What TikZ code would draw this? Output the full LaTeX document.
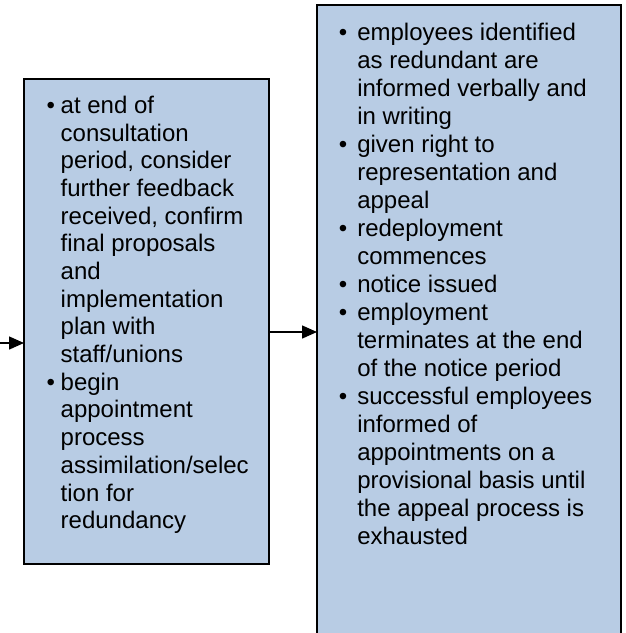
\documentclass[tikz,border=0pt]{standalone}
\usepackage{fontspec}
\setmainfont{Liberation Sans}
\usetikzlibrary{arrows.meta}
\definecolor{boxfill}{HTML}{B8CCE4}
\begin{document}
\begin{tikzpicture}[x=1pt,y=-1pt,
  box/.style={draw=black, line width=1.3pt, fill=boxfill, rectangle, outer sep=0pt, inner sep=0pt, anchor=north west},
  txt/.style={anchor=north west, inner sep=0pt, outer sep=0pt, align=left},
  arr/.style={line width=1.5pt, -{Triangle[length=15pt,width=13pt]}}]
\useasboundingbox (0,0) rectangle (625,633);
\clip (0,0) rectangle (625,633);
\node[box, minimum width=245pt, minimum height=485pt] (b1) at (24,79) {};
\node[box, minimum width=304pt, minimum height=660pt] (b2) at (317,5) {};
\node[txt, font=\fontsize{24}{27.7}\selectfont] (t1) at (60.7,93.9) {\strut\llap{\textbullet\hspace{5.7pt}}at end of\\
consultation\\
period, consider\\
further feedback\\
received, confirm\\
final proposals\\
and\\
implementation\\
plan with\\
staff/unions\\
\llap{\textbullet\hspace{5.7pt}}begin\\
appointment\\
process\\
assimilation/selec\\
tion for\\
redundancy};
\node[txt, font=\fontsize{24}{28}\selectfont] (t2) at (357.3,20.4) {\strut\llap{\textbullet\hspace{10pt}}employees identified\\
as redundant are\\
informed verbally and\\
in writing\\
\llap{\textbullet\hspace{10pt}}given right to\\
representation and\\
appeal\\
\llap{\textbullet\hspace{10pt}}redeployment\\
commences\\
\llap{\textbullet\hspace{10pt}}notice issued\\
\llap{\textbullet\hspace{10pt}}employment\\
terminates at the end\\
of the notice period\\
\llap{\textbullet\hspace{10pt}}successful employees\\
informed of\\
appointments on a\\
provisional basis until\\
the appeal process is\\
exhausted};
\coordinate (src) at (0,343);
\draw[arr] (src) -- (src -| b1.west);
\coordinate (mid) at (0,332);
\draw[arr] (mid -| b1.east) -- (mid -| b2.west);
\end{tikzpicture}
\end{document}
